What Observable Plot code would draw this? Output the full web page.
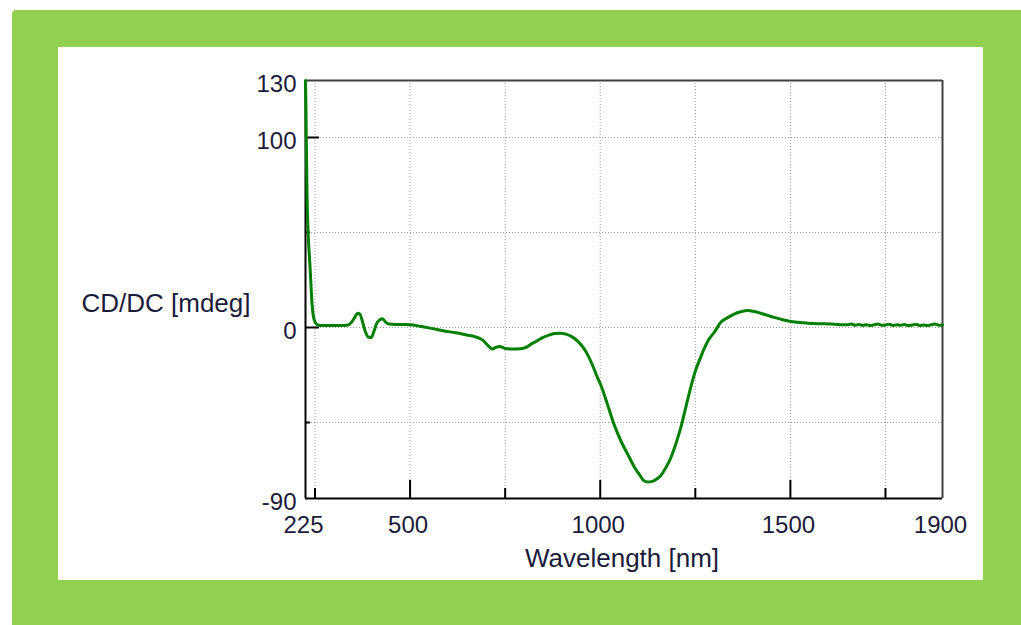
<!DOCTYPE html>
<html>
<head>
<meta charset="utf-8">
<script src="https://cdn.jsdelivr.net/npm/d3@7"></script>
<script src="https://cdn.jsdelivr.net/npm/@observablehq/plot@0.6"></script>
<style>
  html, body { margin: 0; padding: 0; background: #ffffff; width: 1021px; height: 625px; overflow: hidden; }
  #green { position: absolute; left: 12px; top: 10px; right: 0; bottom: 0; background: #92D050; border-top-left-radius: 4px; }
  #panel { position: absolute; left: 58px; top: 47px; width: 925px; height: 533px; background: #ffffff; }
  #panel svg { display: block; }
</style>
</head>
<body>
<div id="green"></div>
<div id="panel"></div>
<script>
// ---- data ----
const wavelengths = [
  225, 226, 227, 228, 229, 231, 233, 236, 238, 240, 242, 245, 248, 253, 260,
  270, 300, 335, 345, 355, 362, 368, 375, 382, 390, 398, 405, 412, 420, 427, 435, 445,
  470, 500, 530, 560, 590, 620, 650, 670, 690, 705, 716, 725, 735, 750, 770, 790,
  805, 820, 835, 850, 865, 880, 895, 910, 925, 940, 955, 966, 980, 993, 1001, 1015,
  1036, 1055, 1072, 1090, 1105, 1115, 1125, 1137, 1150, 1159, 1172, 1186, 1200, 1212,
  1225, 1238, 1250, 1264, 1273, 1285, 1300, 1317, 1335, 1352, 1370, 1387, 1405, 1422,
  1440, 1457, 1480, 1501, 1525, 1545, 1575, 1607, 1630, 1650, 1660, 1670, 1680, 1690,
  1700, 1710, 1720, 1730, 1740, 1750, 1760, 1770, 1780, 1790, 1800, 1810, 1820, 1830,
  1840, 1850, 1860, 1870, 1880, 1890, 1900
];
const cdValues = [
  130, 118, 100, 85, 70, 55, 45, 35, 28, 20, 13, 7, 4, 2, 1.2,
  1.0, 1.0, 1.2, 2.5, 5.5, 7.5, 7.0, 3, -2, -5, -5.3, -2, 2, 4, 4.6, 3, 1.8,
  1.6, 1.5, 0.5, -0.6, -1.8, -2.8, -4, -4.8, -6.5, -9.5, -11.3, -10.5, -10, -11, -11.3, -11.2,
  -10.5, -8.5, -6.9, -5.2, -4, -3.2, -3, -3.5, -4.8, -7, -10.5, -14, -20, -26.5, -30, -38,
  -50.8, -60, -66.6, -73.5, -78, -80.7, -81.3, -81, -79.5, -78, -74, -68.4, -60.5, -52.6,
  -42, -31.5, -23, -15.7, -11.3, -6.5, -2.5, 2.7, 5.2, 7.1, 8.3, 8.9, 8.4, 7.5,
  6.4, 5.3, 4.1, 3.2, 2.6, 2.3, 2.0, 1.8, 1.5, 1.4, 1.9, 1.2, 1.6, 1.1,
  1.5, 1.0, 1.4, 1.8, 1.2, 1.3, 1.7, 1.1, 1.4, 1.2, 1.6, 1.0, 1.3, 1.7,
  1.1, 1.3, 1.0, 1.4, 1.8, 1.2, 1.3
];
const xTickLabels = [225, 500, 1000, 1500, 1900];
const yTickLabels = [-90, 0, 100, 130];
const xGrid = [250, 500, 750, 1000, 1250, 1500, 1750];
const yGrid = [-50, 0, 50, 100];
const xMajorTicks = [500, 1000, 1500];
const xMinorTicks = [250, 750, 1250, 1750];
const yMajorTicks = [0, 100];
const yMinorTicks = [-50, 50];
const xDomain = [225, 1900];
const yDomain = [-90, 130];
const xLabel = "Wavelength [nm]";
const yLabel = "CD/DC [mdeg]";

const data = wavelengths.map((w, i) => ({w, v: cdValues[i]}));

const W = 925, H = 533;
const mL = 247, mR = 41, mT = 33, mB = 82;
const frameW = W - mL - mR, frameH = H - mT - mB;
const textColor = "#1b1b3b";
const font = "Liberation Sans, Arial, sans-serif";
const fsNum = 24;
const fsLab = 26;

const chart = Plot.plot({
  width: W,
  height: H,
  marginLeft: mL,
  marginRight: mR,
  marginTop: mT,
  marginBottom: mB,
  style: {fontFamily: font, background: "transparent", overflow: "visible"},
  x: {domain: xDomain, axis: null},
  y: {domain: yDomain, axis: null},
  marks: [
    Plot.ruleX(xGrid, {stroke: "#9a9a9a", strokeWidth: 1, strokeDasharray: "1,2"}),
    Plot.ruleY(yGrid, {stroke: "#9a9a9a", strokeWidth: 1, strokeDasharray: "1,2"}),
    // frame
    Plot.ruleY([yDomain[1]], {stroke: "#404040", strokeWidth: 2}),
    Plot.ruleX([xDomain[1]], {stroke: "#404040", strokeWidth: 2}),
    Plot.ruleX([xDomain[0]], {stroke: "#000", strokeWidth: 2}),
    Plot.ruleY([yDomain[0]], {stroke: "#000", strokeWidth: 2}),
    // inward ticks
    Plot.tickX(xMajorTicks, {x: d => d, stroke: "#000", strokeWidth: 2, insetTop: frameH - 18}),
    Plot.tickX(xMinorTicks, {x: d => d, stroke: "#000", strokeWidth: 2, insetTop: frameH - 10}),
    Plot.tickY(yMajorTicks, {y: d => d, stroke: "#000", strokeWidth: 2, insetRight: frameW - 14}),
    Plot.tickY(yMinorTicks, {y: d => d, stroke: "#000", strokeWidth: 2, insetRight: frameW - 5}),
    // tick labels
    Plot.text(xTickLabels, {x: d => d, text: d => String(d), frameAnchor: "bottom", dy: 27, dx: -2,
      fontSize: fsNum, fill: textColor, lineAnchor: "middle"}),
    Plot.text(yTickLabels, {y: d => d, text: d => String(d), frameAnchor: "left", textAnchor: "end",
      dx: -9, dy: 4, fontSize: fsNum, fill: textColor, lineAnchor: "middle"}),
    // axis labels
    Plot.text([xLabel], {text: d => d, frameAnchor: "bottom", dy: 60, dx: -2, fontSize: fsLab,
      fill: textColor, lineAnchor: "middle"}),
    Plot.text([yLabel], {text: d => d, frameAnchor: "left", textAnchor: "end", dx: -55, dy: 14,
      fontSize: fsLab, fill: textColor, lineAnchor: "middle"}),
    // data line
    Plot.line(data, {x: "w", y: "v", stroke: "#008000", strokeWidth: 3, strokeLinejoin: "round",
      curve: "monotone-x"})
  ]
});
document.getElementById("panel").appendChild(chart);
</script>
</body>
</html>
